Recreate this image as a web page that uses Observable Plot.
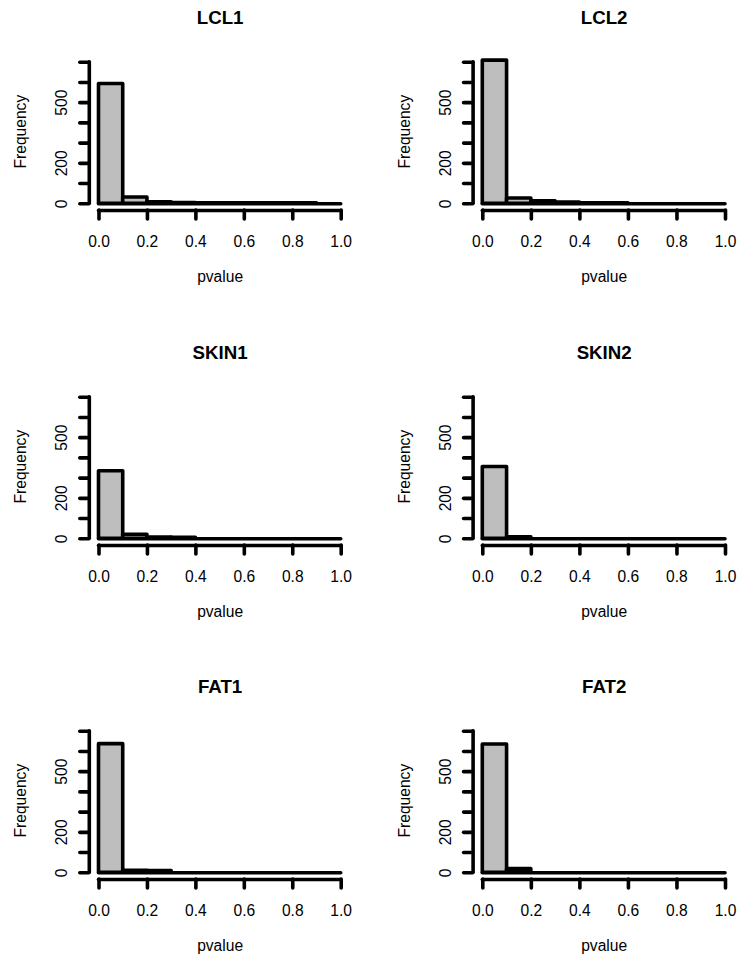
<!DOCTYPE html>
<html>
<head>
<meta charset="utf-8">
<script src="https://cdn.jsdelivr.net/npm/d3@7"></script>
<script src="https://cdn.jsdelivr.net/npm/@observablehq/plot@0.6"></script>
<style>
  html, body { margin: 0; padding: 0; background: #ffffff; }
  #chart { position: relative; width: 739px; height: 960px; overflow: hidden; background: #ffffff; }
  .panel { position: absolute; }
</style>
</head>
<body>
<div id="chart"></div>
<script>
// ---- data ----
const panelTitles = ["LCL1", "LCL2", "SKIN1", "SKIN2", "FAT1", "FAT2"];
const binStarts = [0.0, 0.1, 0.2, 0.3, 0.4, 0.5, 0.6, 0.7, 0.8, 0.9];
const binEnds   = [0.1, 0.2, 0.3, 0.4, 0.5, 0.6, 0.7, 0.8, 0.9, 1.0];
const countsLCL1  = [592, 31, 8, 4, 3, 3, 2, 2, 2, 0];
const countsLCL2  = [708, 26, 12, 6, 3, 2, 0, 0, 0, 0];
const countsSKIN1 = [334, 20, 6, 5, 0, 0, 0, 0, 0, 0];
const countsSKIN2 = [355, 8, 0, 0, 0, 0, 0, 0, 0, 0];
const countsFAT1  = [636, 10, 9, 0, 0, 0, 0, 0, 0, 0];
const countsFAT2  = [634, 18, 0, 0, 0, 0, 0, 0, 0, 0];
const xTicks = [0, 0.2, 0.4, 0.6, 0.8, 1.0];
const xTickLabels = ["0.0", "0.2", "0.4", "0.6", "0.8", "1.0"];
const yTicks = [0, 100, 200, 300, 400, 500, 600, 700];
const yLabelValues = [0, 200, 500];
const yLabelTexts = ["0", "200", "500"];
const xAxisTitle = "pvalue";
const yAxisTitle = "Frequency";

const allCounts = [countsLCL1, countsLCL2, countsSKIN1, countsSKIN2, countsFAT1, countsFAT2];

// ---- layout ----
const FONT = "'Liberation Sans', Arial, Helvetica, sans-serif";
const columns = [
  {left: 0,   width: 370, marginLeft: 98.5,  marginRight: 29.3},
  {left: 370, width: 369, marginLeft: 112.3, marginRight: 14}
];
const rowTops = [0, 335, 669];
const H = 290;
const zeroY = 203.3, topY = 61.7;
const LW = 3.6;
const AX_OFF = 9.7;

const chart = document.getElementById("chart");

panelTitles.forEach((title, p) => {
  const col = columns[p % 2];
  const top = rowTops[Math.floor(p / 2)];
  const counts = allCounts[p];
  const bins = binStarts.map((s, i) => ({x1: s, x2: binEnds[i], count: counts[i]}));

  const plot = Plot.plot({
    width: col.width,
    height: H,
    marginLeft: col.marginLeft,
    marginRight: col.marginRight,
    marginTop: 59,
    marginBottom: H - zeroY,
    x: {domain: [0, 1]},
    y: {domain: [0, 700], range: [zeroY, topY]},
    style: {fontFamily: FONT, fontSize: "15.6px", background: "#ffffff", color: "#000000", overflow: "visible"},
    marks: [
      Plot.rectY(bins, {x1: "x1", x2: "x2", y: "count", fill: "#bebebe", stroke: "#000000", strokeWidth: LW, strokeLinejoin: "round"}),
      Plot.ruleY([0], {x1: 0, x2: 1, stroke: "#000000", strokeWidth: LW, strokeLinecap: "round"}),
      // x axis
      Plot.ruleY([0], {x1: 0, x2: 1, dy: 6.7, stroke: "#000000", strokeWidth: LW, strokeLinecap: "round"}),
      Plot.axisX({ticks: xTicks, tickSize: 9, tickFormat: () => "", dy: 6.7, strokeWidth: LW, strokeLinecap: "round", label: null}),
      Plot.text(xTicks, {x: d => d, text: (d, i) => xTickLabels[i], frameAnchor: "bottom", lineAnchor: "bottom", dy: 42.7}),
      Plot.text([xAxisTitle], {frameAnchor: "bottom", lineAnchor: "bottom", dy: 78.2}),
      // y axis
      Plot.ruleX([0], {y1: 0, y2: 700, dx: -AX_OFF, stroke: "#000000", strokeWidth: LW, strokeLinecap: "round"}),
      Plot.axisY({ticks: yTicks, tickSize: 9, tickFormat: () => "", dx: -AX_OFF, strokeWidth: LW, strokeLinecap: "round", label: null}),
      Plot.text(yLabelValues, {y: d => d, text: (d, i) => yLabelTexts[i], frameAnchor: "left", textAnchor: "middle", dx: -37.2, rotate: -90}),
      Plot.text([yAxisTitle], {frameAnchor: "left", textAnchor: "middle", dx: -77.8, rotate: -90}),
      // title
      Plot.text([title], {frameAnchor: "top", lineAnchor: "bottom", dy: -35.2, fontWeight: "bold", fontSize: 18.7})
    ]
  });
  const div = document.createElement("div");
  div.className = "panel";
  div.style.left = col.left + "px";
  div.style.top = top + "px";
  div.appendChild(plot);
  chart.appendChild(div);
});
</script>
</body>
</html>
